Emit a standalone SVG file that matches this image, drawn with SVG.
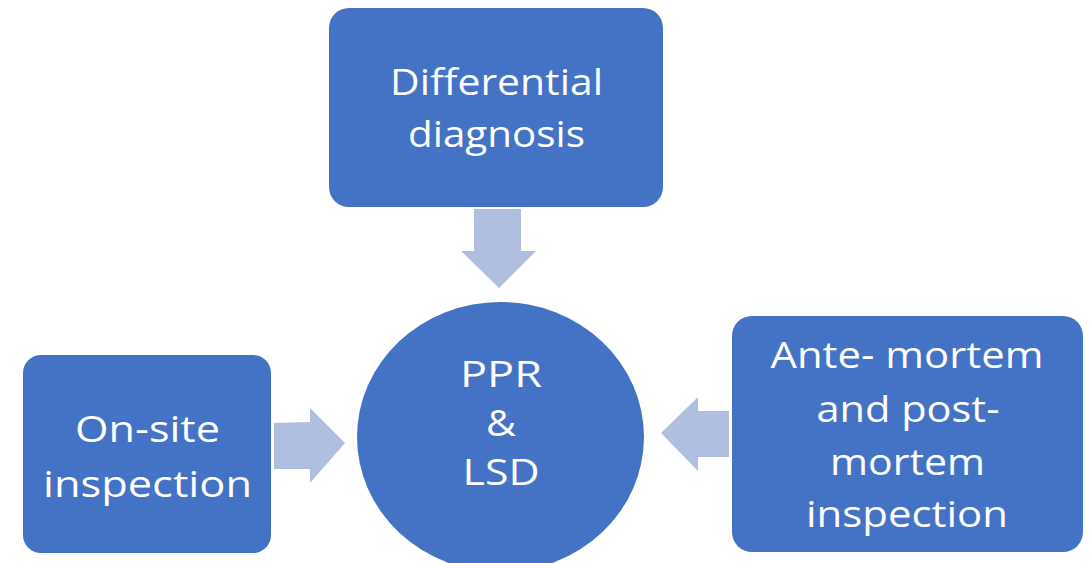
<svg xmlns="http://www.w3.org/2000/svg" width="1091" height="563" viewBox="0 0 1091 563">
<style>
.box{fill:#4472C4;}
.arrow{fill:#B0BEDF;}
.t{fill:#FFFFFF;font-family:"Open Sans","Liberation Sans",sans-serif;font-size:37px;text-anchor:middle;}
</style>
<rect width="1091" height="563" fill="#FFFFFF"/>
<g id="connectors">
<polygon class="arrow" points="474,209 521,209 521,251 536,251 499,288 461,251 474,251"/>
<polygon class="arrow" points="274,423 310,422 310,408 345,443 310,483 310,469 274,469"/>
<polygon class="arrow" points="729,411 698,411 698,397 661,433 698,471 698,457 729,457"/>
</g>
<g id="node-differential">
<rect class="box" x="329" y="8" width="334" height="199" rx="20"/>
<text class="t" x="496.5" y="95" textLength="213" lengthAdjust="spacingAndGlyphs">Differential</text>
<text class="t" x="496.5" y="147" textLength="177" lengthAdjust="spacingAndGlyphs">diagnosis</text>
</g>
<g id="node-onsite">
<rect class="box" x="23" y="355" width="248" height="198" rx="18"/>
<text class="t" x="147.5" y="442" textLength="145" lengthAdjust="spacingAndGlyphs">On-site</text>
<text class="t" x="147.5" y="497" textLength="209" lengthAdjust="spacingAndGlyphs">inspection</text>
</g>
<g id="node-center">
<ellipse class="box" cx="500.5" cy="437" rx="143.5" ry="135"/>
<text class="t" x="501" y="387" textLength="82" lengthAdjust="spacingAndGlyphs">PPR</text>
<text class="t" x="501" y="436" textLength="30" lengthAdjust="spacingAndGlyphs">&amp;</text>
<text class="t" x="501" y="485" textLength="77" lengthAdjust="spacingAndGlyphs">LSD</text>
</g>
<g id="node-antemortem">
<rect class="box" x="732" y="316" width="351" height="236" rx="20"/>
<text class="t" x="907" y="368" textLength="273" lengthAdjust="spacingAndGlyphs">Ante- mortem</text>
<text class="t" x="908" y="422" textLength="183" lengthAdjust="spacingAndGlyphs">and post-</text>
<text class="t" x="907.5" y="475" textLength="155" lengthAdjust="spacingAndGlyphs">mortem</text>
<text class="t" x="907" y="527" textLength="202" lengthAdjust="spacingAndGlyphs">inspection</text>
</g>
</svg>
